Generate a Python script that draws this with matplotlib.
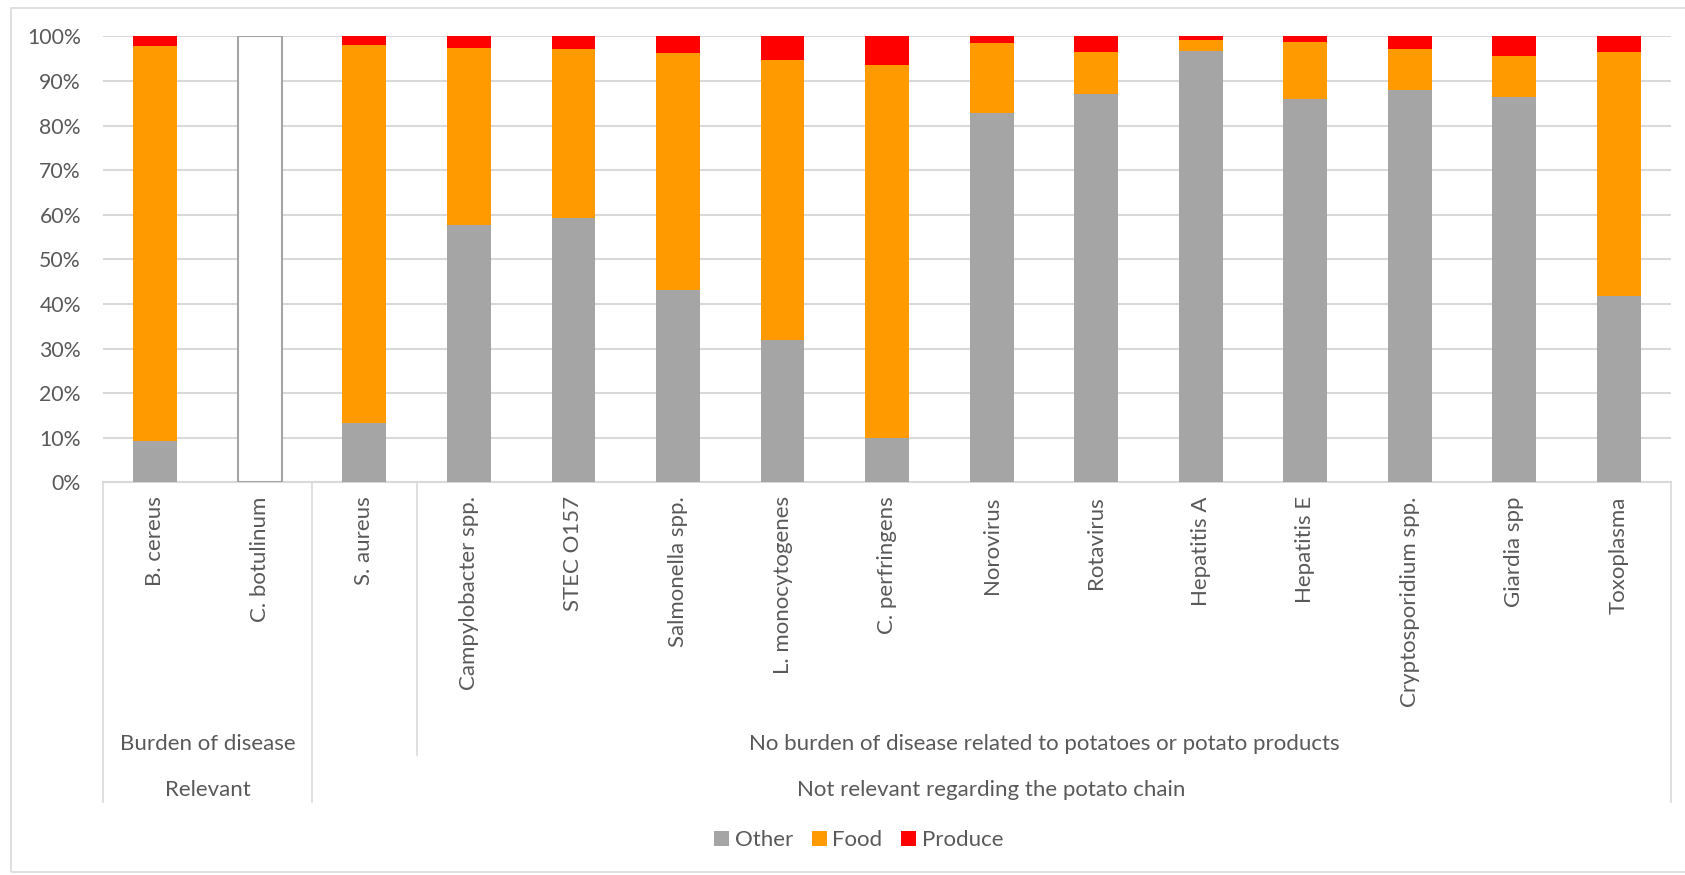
import numpy as np
import matplotlib
matplotlib.use("Agg")
import matplotlib.pyplot as plt
from matplotlib.transforms import blended_transform_factory
from matplotlib.lines import Line2D
from matplotlib.patches import Rectangle

pathogens = ["B. cereus", "C. botulinum", "S. aureus", "Campylobacter spp.", "STEC O157",
             "Salmonella spp.", "L. monocytogenes", "C. perfringens", "Norovirus", "Rotavirus",
             "Hepatitis A", "Hepatitis E", "Cryptosporidium spp.", "Giardia spp", "Toxoplasma"]

# shares in %, C. botulinum has no attribution data (drawn as empty bar)
other = [9.2, np.nan, 13.4, 57.8, 59.3, 43.1, 32.0, 9.9, 82.9, 87.0, 96.7, 86.0, 88.0, 86.5, 41.9]
food = [88.6, np.nan, 84.6, 39.7, 37.8, 53.1, 62.7, 83.8, 15.6, 9.6, 2.6, 12.8, 9.1, 9.1, 54.6]
produce = [2.2, np.nan, 2.0, 2.5, 2.9, 3.8, 5.3, 6.3, 1.5, 3.4, 0.7, 1.2, 2.9, 4.4, 3.5]
empty_bars = ["C. botulinum"]

# grouping levels of the category axis: (label, first index, last index)
level2 = [("Burden of disease", 0, 1), ("", 2, 2),
          ("No burden of disease related to potatoes or potato products", 3, 14)]
level3 = [("Relevant", 0, 1), ("Not relevant regarding the potato chain", 2, 14)]

c_other, c_food, c_produce = "#A5A5A5", "#FF9A00", "#FF0000"
txt = "#595959"
grid = "#D9D9D9"

plt.rcParams["font.family"] = ["Lato", "DejaVu Sans"]
fs = 16

fig = plt.figure(figsize=(16.85, 8.75), dpi=100)
fig.patches.append(Rectangle((0.0064, 0.003), 1.2, 0.9884, transform=fig.transFigure,
                             facecolor="none", edgecolor=grid, linewidth=1.2))
ax = fig.add_axes([0.0612, 0.4486, 0.9305, 0.5097])

x = np.arange(len(pathogens))
o = np.nan_to_num(np.array(other)) / 100
f = np.nan_to_num(np.array(food)) / 100
p = np.nan_to_num(np.array(produce)) / 100
w = 0.42
ax.bar(x, o, w, color=c_other, label="Other", zorder=3)
ax.bar(x, f, w, bottom=o, color=c_food, label="Food", zorder=3)
ax.bar(x, p, w, bottom=o + f, color=c_produce, label="Produce", zorder=3)
for name in empty_bars:
    i = pathogens.index(name)
    ax.bar(x[i], 1.0, w, facecolor="white", edgecolor="#A5A5A5", linewidth=1.5, zorder=3)

ax.set_xlim(-0.5, len(pathogens) - 0.5)
ax.set_ylim(0, 1)
ax.set_yticks(np.arange(0, 1.01, 0.1))
ax.set_yticklabels([f"{int(round(v * 100))}%" for v in np.arange(0, 1.01, 0.1)])
ax.yaxis.grid(True, color=grid, linewidth=1.5, zorder=0)
ax.set_axisbelow(True)
for s in ["top", "right", "left"]:
    ax.spines[s].set_visible(False)
ax.spines["bottom"].set_color(grid)
ax.spines["bottom"].set_linewidth(1.5)
ax.tick_params(axis="y", length=0, pad=16, labelsize=15.3, labelcolor=txt)
ax.set_xticks(x)
ax.set_xticklabels(pathogens, rotation=90, fontsize=fs, color=txt)
ax.tick_params(axis="x", length=0, pad=10)

# multi-level category axis
tr = blended_transform_factory(ax.transData, fig.transFigure)
y_axis, y_l1, y_l2, y_l3 = 0.4486, 0.1897, 0.1367, 0.0838
for xs, yend in [(-0.5, y_l3), (1.5, y_l3), (2.5, y_l2), (14.5, y_l3)]:
    fig.add_artist(Line2D([xs, xs], [y_axis, yend], transform=tr, color=grid, linewidth=1.2))
for label, a, b in level2:
    ax.text((a + b) / 2, 0.1502, label, transform=tr, ha="center", va="center",
            fontsize=fs, color=txt)
for label, a, b in level3:
    ax.text((a + b) / 2, 0.0974, label, transform=tr, ha="center", va="center",
            fontsize=fs, color=txt)

fig.legend(loc="center", bbox_to_anchor=(0.5096, 0.0399), ncol=3, frameon=False,
           fontsize=fs, labelcolor=txt, handlelength=0.68, handleheight=0.68,
           handletextpad=0.24, columnspacing=0.85)

fig.savefig("out.png", dpi=100)
